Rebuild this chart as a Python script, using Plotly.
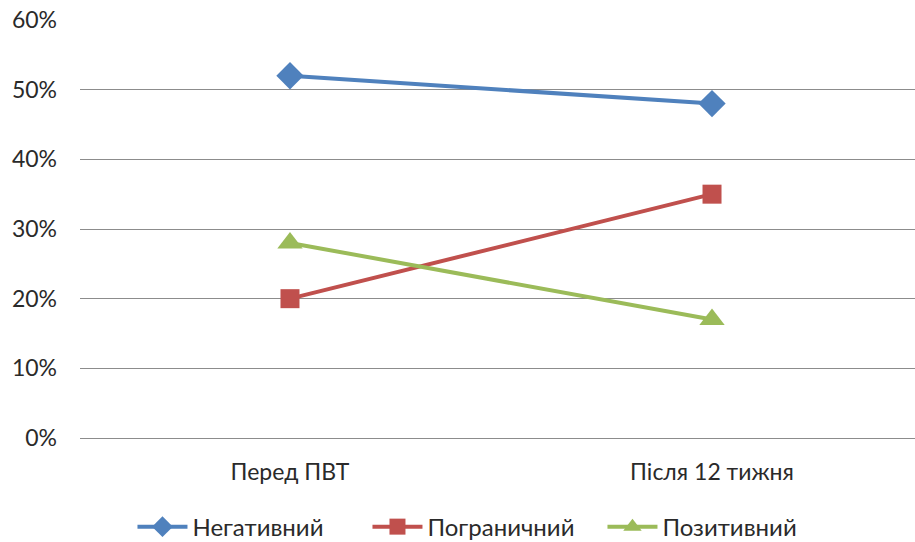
import plotly.graph_objects as go

categories = ["Перед ПВТ", "Після 12 тижня"]
negative = [0.52, 0.48]
borderline = [0.20, 0.35]
positive = [0.28, 0.17]
y_ticks = [0, 0.1, 0.2, 0.3, 0.4, 0.5, 0.6]
y_tick_labels = ["0%", "10%", "20%", "30%", "40%", "50%", "60%"]

FONT = "Lato"
TEXT = "#2A2A2A"

fig = go.Figure()
series = [
    ("Негативний", negative, "#4F81BD", "diamond", 21),
    ("Пограничний", borderline, "#C0504D", "square", 19),
    ("Позитивний", positive, "#9BBB59", "triangle-up", 22),
]
for name, vals, color, symbol, size in series:
    fig.add_trace(go.Scatter(
        x=[0, 1], y=vals, name=name, mode="lines+markers",
        line=dict(color=color, width=4),
        marker=dict(symbol=symbol, size=size, color=color, line=dict(width=0)),
    ))

fig.update_layout(
    width=915, height=542,
    margin=dict(l=80, r=0, t=20, b=104, autoexpand=False),
    paper_bgcolor="white", plot_bgcolor="white",
    font=dict(family=FONT, size=23, color=TEXT),
    showlegend=True,
    legend=dict(orientation="h", x=0.485, xanchor="center", y=-0.213, yanchor="middle",
                font=dict(family=FONT, size=24, color=TEXT),
                itemwidth=50, entrywidth=170, entrywidthmode="pixels",
                tracegroupgap=0, bgcolor="rgba(0,0,0,0)"),
)
fig.update_xaxes(
    range=[-0.4976, 1.481], tickmode="array", tickvals=[0, 1], ticktext=categories,
    showgrid=False, zeroline=False, showline=False, ticks="", ticklabelstandoff=18,
    automargin=False,
)
fig.update_yaxes(
    range=[0, 0.6], tickmode="array", tickvals=y_ticks, ticktext=y_tick_labels,
    showgrid=True, gridcolor="#8C8C8C", gridwidth=1,
    zeroline=True, zerolinecolor="#8C8C8C", zerolinewidth=1, showline=False,
    ticks="", ticklabelstandoff=22, automargin=False,
)

fig.write_html("out.html")
